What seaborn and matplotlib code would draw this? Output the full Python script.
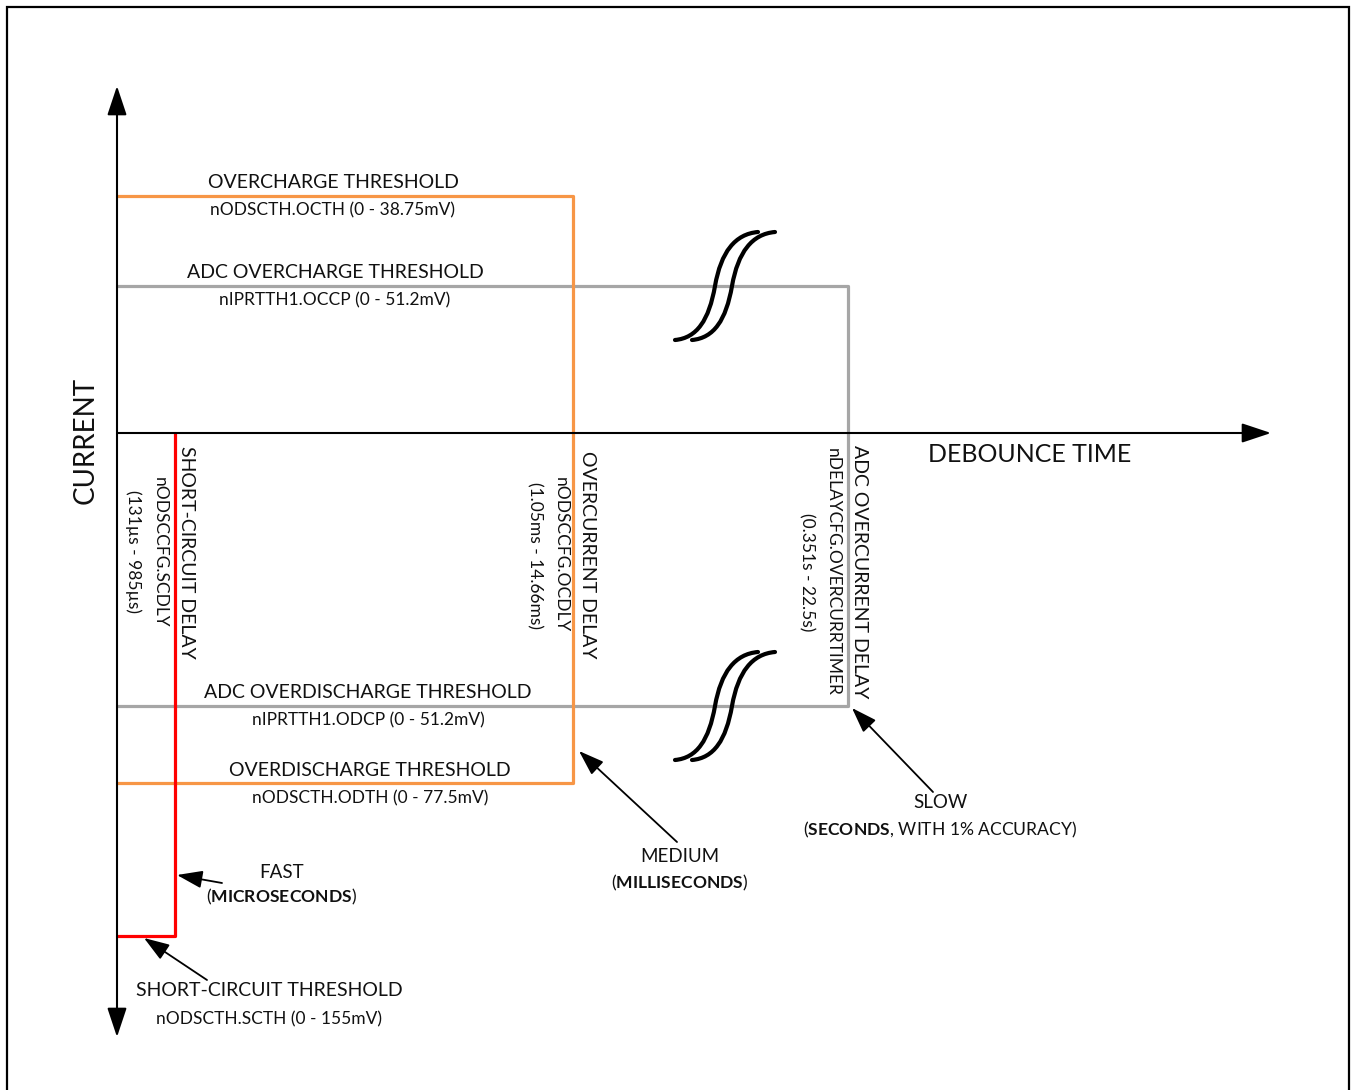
import numpy as np
import pandas as pd
import matplotlib
matplotlib.use("Agg")
import matplotlib.pyplot as plt
import seaborn as sns
from matplotlib.path import Path
from matplotlib.patches import PathPatch, Rectangle

# ---------------- data (chart units: origin at axes crossing, current up) ----------------
threshold_names = ["OVERCHARGE THRESHOLD", "ADC OVERCHARGE THRESHOLD",
                   "ADC OVERDISCHARGE THRESHOLD", "OVERDISCHARGE THRESHOLD",
                   "SHORT-CIRCUIT THRESHOLD"]
threshold_regs = ["nODSCTH.OCTH (0 - 38.75mV)", "nIPRTTH1.OCCP (0 - 51.2mV)",
                  "nIPRTTH1.ODCP (0 - 51.2mV)", "nODSCTH.ODTH (0 - 77.5mV)",
                  "nODSCTH.SCTH (0 - 155mV)"]
threshold_levels = [237, 147, -273, -350, -503]

delay_names = ["SHORT-CIRCUIT DELAY", "OVERCURRENT DELAY", "ADC OVERCURRENT DELAY"]
delay_regs = ["nODSCCFG.SCDLY", "nODSCCFG.OCDLY", "nDELAYCFG.OVERCURRTIMER"]
delay_ranges = ["(131µs - 985µs)", "(1.05ms - 14.66ms)", "(0.351s - 22.5s)"]
delay_times = [58, 456, 731]

speed_names = ["FAST", "MEDIUM", "SLOW"]
speed_units = ["MICROSECONDS", "MILLISECONDS", "SECONDS"]
speed_tails = [")", ")", ", WITH 1% ACCURACY)"]

# ---------------- figure ----------------
sns.set_theme(style="white")
plt.rcParams["font.family"] = ["Lato", "DejaVu Sans"]
plt.rcParams["mathtext.fontset"] = "custom"
plt.rcParams["mathtext.rm"] = "Lato"
plt.rcParams["mathtext.bf"] = "Lato:bold"

W, H = 1352, 1090
OX, OY = 117, 433  # pixel position of origin
fig = plt.figure(figsize=(W / 100, H / 100), dpi=100)
ax = fig.add_axes([0, 0, 1, 1])
ax.set_xlim(-OX, W - OX)
ax.set_ylim(OY - H, OY)
ax.axis("off")

def P(px, py):
    return (px - OX, OY - py)

# border
ax.add_patch(Rectangle(P(7, 1100), 1342, 1093, fill=False, lw=1.6, ec="black", zorder=1))

# threshold/delay paths
oc, adc_oc, adc_od, od, sc = threshold_levels
t_sc, t_oc, t_adc = delay_times
paths = {
    "adc": [(0, adc_oc), (t_adc, adc_oc), (t_adc, adc_od), (0, adc_od)],
    "hw": [(0, oc), (t_oc, oc), (t_oc, od), (0, od)],
    "sc": [(t_sc, 0), (t_sc, sc), (0, sc)],
}
rows = []
for name, pts in paths.items():
    for i, (x, y) in enumerate(pts):
        rows.append({"series": name, "order": i, "x": x, "y": y})
df = pd.DataFrame(rows)
palette = {"adc": "#A6A6A6", "hw": "#F79646", "sc": "#FF0000"}
sns.lineplot(data=df, x="x", y="y", hue="series", palette=palette, sort=False,
             estimator=None, units="series", linewidth=2.3, legend=False, ax=ax, zorder=3)

# axes with arrows
ax.annotate("", xy=P(OX, 86), xytext=P(OX, 1037),
            arrowprops=dict(arrowstyle="<|-|>,head_length=1.5,head_width=0.5",
                            mutation_scale=12, lw=1.5, color="black", shrinkA=0, shrinkB=0),
            zorder=4)
ax.annotate("", xy=P(1271, OY), xytext=P(OX, OY),
            arrowprops=dict(arrowstyle="-|>,head_length=1.5,head_width=0.5",
                            mutation_scale=12, lw=1.5, color="black", shrinkA=0, shrinkB=0),
            zorder=4)

# break symbols on ADC lines (integral-sign shaped double curves)
for lvl in (adc_oc, adc_od):
    for dx in (0, 17):
        x0, y0 = 558 + dx, lvl - 54
        verts = [(x0, y0), (x0 + 22, y0 + 2), (x0 + 34, y0 + 20), (x0 + 40, y0 + 54),
                 (x0 + 46, y0 + 88), (x0 + 60, y0 + 106), (x0 + 83, y0 + 108)]
        codes = [Path.MOVETO] + [Path.CURVE4] * 6
        ax.add_patch(PathPatch(Path(verts, codes), fill=False, lw=3.0, ec="black",
                               capstyle="round", zorder=5))

# threshold labels
label_pos = [(333, 182, 210), (335, 272, 300), (368, 693, 720), (370, 770, 798), (269, 990, 1019)]
for name, reg, (cx, y1, y2) in zip(threshold_names, threshold_regs, label_pos):
    ax.text(*P(cx, y1), name, fontsize=14, ha="center", va="center", color="#111111")
    ax.text(*P(cx, y2), reg, fontsize=12.5, ha="center", va="center", color="#111111")

# delay labels (rotated)
delay_pos = [((186, 160, 133), 552), ((587, 561, 535), 555), ((860, 833, 807), 572)]
for name, reg, rng, (xs, cy) in zip(delay_names, delay_regs, delay_ranges, delay_pos):
    for txt, px, fs in zip((name, reg, rng), xs, (14, 12.5, 12.5)):
        ax.text(*P(px, cy), txt, fontsize=fs, rotation=-90, ha="center", va="center",
                color="#111111")

# axis titles
ax.text(*P(1030, 454), "DEBOUNCE TIME", fontsize=18, ha="center", va="center", color="#111111")
ax.text(*P(86, 440), "CURRENT", fontsize=20, rotation=90, ha="center", va="center", color="#111111")

# speed labels with bold word
speed_pos = [(282, 872, 897), (680, 856, 883), (940, 803, 830)]
for name, unit, tail, (cx, y1, y2) in zip(speed_names, speed_units, speed_tails, speed_pos):
    ax.text(*P(cx, y1), name, fontsize=13.5, ha="center", va="center", color="#111111")
    label = "(" + r"$\mathbf{" + unit + "}$" + tail.replace("%", r"%")
    ax.text(*P(cx, y2), label, fontsize=12.6, ha="center", va="center", color="#111111")

# pointer arrows
arrows = [((222, 883), (177, 875)), ((207, 980), (144, 938)),
          ((677, 842), (579, 751)), ((933, 792), (852, 708))]
for tail, head in arrows:
    ax.annotate("", xy=P(*head), xytext=P(*tail),
                arrowprops=dict(arrowstyle="-|>,head_length=1.3,head_width=0.45",
                                mutation_scale=12, lw=1.3, color="black",
                                shrinkA=0, shrinkB=0), zorder=6)

fig.savefig("out.png", dpi=100)
